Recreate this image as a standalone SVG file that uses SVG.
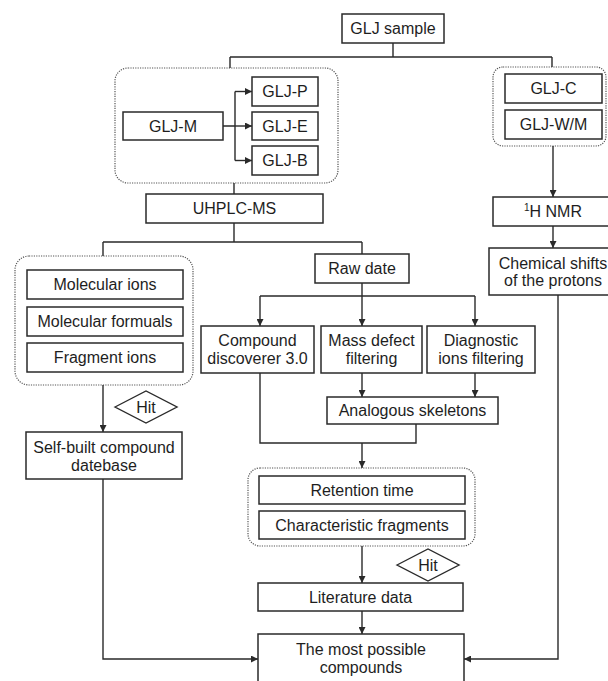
<svg xmlns="http://www.w3.org/2000/svg" width="608" height="681" viewBox="0 0 608 681">
<defs>
<marker id="ah" markerWidth="7" markerHeight="7" refX="7" refY="3.5" orient="auto" markerUnits="userSpaceOnUse">
<path d="M0,0 L7,3.5 L0,7 z" fill="#2a2a2a"/>
</marker>
<style>
.bx{fill:#fff;stroke:#2a2a2a;stroke-width:1.5}
.grp{fill:none;stroke:#555;stroke-width:1.2;stroke-dasharray:1.2 1.2}
.t{font-family:"Liberation Sans",Arial,sans-serif;font-size:16px;fill:#1e1e1e;text-anchor:middle}
.c{fill:none;stroke:#2a2a2a;stroke-width:1.4}
.a{marker-end:url(#ah)}
.dm{fill:#fff;stroke:#2a2a2a;stroke-width:1.4}
</style>
</defs>
<rect width="608" height="681" fill="#fff"/>

<g id="groups">
<rect id="grp-extract" class="grp" x="115" y="68" width="223" height="115" rx="13"/>
<rect id="grp-cw" class="grp" x="493" y="67" width="113" height="79" rx="10"/>
<rect id="grp-ms" class="grp" x="15" y="256" width="178" height="129" rx="14"/>
<rect id="grp-rt" class="grp" x="248" y="468" width="227" height="78" rx="12"/>
</g>

<g id="connectors">
<path class="c" d="M393,43 V57 M230,57 H552 M230,57 V68 M552,57 V67"/>
<path class="c" d="M223,126 H235 M235,91.5 V160.5"/>
<path class="c a" d="M235,91.5 H252"/>
<path class="c a" d="M235,126 H252"/>
<path class="c a" d="M235,160.5 H252"/>
<path class="c" d="M234,183 V194 M234,223 V242 M103,242 H362 M103,242 V256 M362,242 V254"/>
<path class="c a" d="M553,146 V197"/>
<path class="c a" d="M553,226 V248"/>
<path class="c" d="M362,283 V296 M260,296 H475"/>
<path class="c a" d="M260,296 V326"/>
<path class="c a" d="M362,296 V326"/>
<path class="c a" d="M475,296 V326"/>
<path class="c a" d="M362,373 V397"/>
<path class="c a" d="M475,373 V397"/>
<path class="c" d="M260,373 V443 H416 V424"/>
<path class="c a" d="M362,443 V468"/>
<path class="c a" d="M103,385 V432"/>
<path class="c a" d="M362,546 V583"/>
<path class="c a" d="M362,611 V634"/>
<path class="c a" d="M103,479 V659 H258"/>
<path class="c a" d="M558,295 V659 H464"/>
</g>

<g id="n-glj-sample"><rect class="bx" x="342" y="14" width="102" height="29"/><text class="t" x="393" y="34">GLJ sample</text></g>
<g id="n-glj-m"><rect class="bx" x="123" y="112" width="100" height="28"/><text class="t" x="173" y="131.7">GLJ-M</text></g>
<g id="n-glj-p"><rect class="bx" x="252" y="77" width="66" height="29"/><text class="t" x="285" y="97">GLJ-P</text></g>
<g id="n-glj-e"><rect class="bx" x="252" y="112" width="66" height="28"/><text class="t" x="285" y="131.7">GLJ-E</text></g>
<g id="n-glj-b"><rect class="bx" x="252" y="146" width="66" height="29"/><text class="t" x="285" y="166">GLJ-B</text></g>
<g id="n-glj-c"><rect class="bx" x="505" y="74" width="97" height="29"/><text class="t" x="553.5" y="94">GLJ-C</text></g>
<g id="n-glj-wm"><rect class="bx" x="505" y="110" width="97" height="29"/><text class="t" x="553.5" y="130">GLJ-W/M</text></g>
<g id="n-uhplc"><rect class="bx" x="146" y="194" width="177" height="29"/><text class="t" x="234.5" y="214">UHPLC-MS</text></g>
<g id="n-nmr"><rect class="bx" x="493" y="197" width="120" height="29"/><text class="t" x="553" y="217"><tspan font-size="10" dy="-6">1</tspan><tspan dy="6">H NMR</tspan></text></g>
<g id="n-chem"><rect class="bx" x="489" y="248" width="128" height="47"/><text class="t" x="553" y="268.7">Chemical shifts</text><text class="t" x="553" y="285.7">of the protons</text></g>
<g id="n-mol-ions"><rect class="bx" x="27" y="270" width="156" height="29"/><text class="t" x="105" y="290">Molecular ions</text></g>
<g id="n-mol-form"><rect class="bx" x="27" y="307" width="156" height="29"/><text class="t" x="105" y="327">Molecular formuals</text></g>
<g id="n-frag"><rect class="bx" x="27" y="343" width="156" height="29"/><text class="t" x="105" y="363">Fragment ions</text></g>
<g id="n-raw"><rect class="bx" x="315" y="254" width="94" height="29"/><text class="t" x="362" y="274">Raw date</text></g>
<g id="n-cd"><rect class="bx" x="201" y="326" width="113" height="47"/><text class="t" x="257.5" y="345.7">Compound</text><text class="t" x="257.5" y="363.7">discoverer 3.0</text></g>
<g id="n-mdf"><rect class="bx" x="321" y="326" width="101" height="47"/><text class="t" x="371.5" y="345.7">Mass defect</text><text class="t" x="371.5" y="363.7">filtering</text></g>
<g id="n-dif"><rect class="bx" x="427" y="326" width="108" height="47"/><text class="t" x="481" y="345.7">Diagnostic</text><text class="t" x="481" y="363.7">ions filtering</text></g>
<g id="n-analog"><rect class="bx" x="327" y="397" width="171" height="27"/><text class="t" x="412.5" y="416">Analogous skeletons</text></g>
<g id="n-hit-left"><path class="dm" d="M115,407 L146,391 L177,407 L146,423 z"/><text class="t" x="146" y="412.7">Hit</text></g>
<g id="n-selfbuilt"><rect class="bx" x="26" y="432" width="156" height="47"/><text class="t" x="104" y="452.7">Self-built compound</text><text class="t" x="104" y="470.7">datebase</text></g>
<g id="n-retention"><rect class="bx" x="259" y="476" width="206" height="28"/><text class="t" x="362" y="495.7">Retention time</text></g>
<g id="n-charfrag"><rect class="bx" x="259" y="511" width="206" height="28"/><text class="t" x="362" y="530.7">Characteristic fragments</text></g>
<g id="n-hit-right"><path class="dm" d="M397,565 L428,549 L459,565 L428,581 z"/><text class="t" x="428" y="570.7">Hit</text></g>
<g id="n-literature"><rect class="bx" x="258" y="583" width="205" height="28"/><text class="t" x="360.5" y="602.7">Literature data</text></g>
<g id="n-most"><rect class="bx" x="258" y="634" width="206" height="60"/><text class="t" x="361" y="654.7">The most possible</text><text class="t" x="361" y="672.7">compounds</text></g>
</svg>
